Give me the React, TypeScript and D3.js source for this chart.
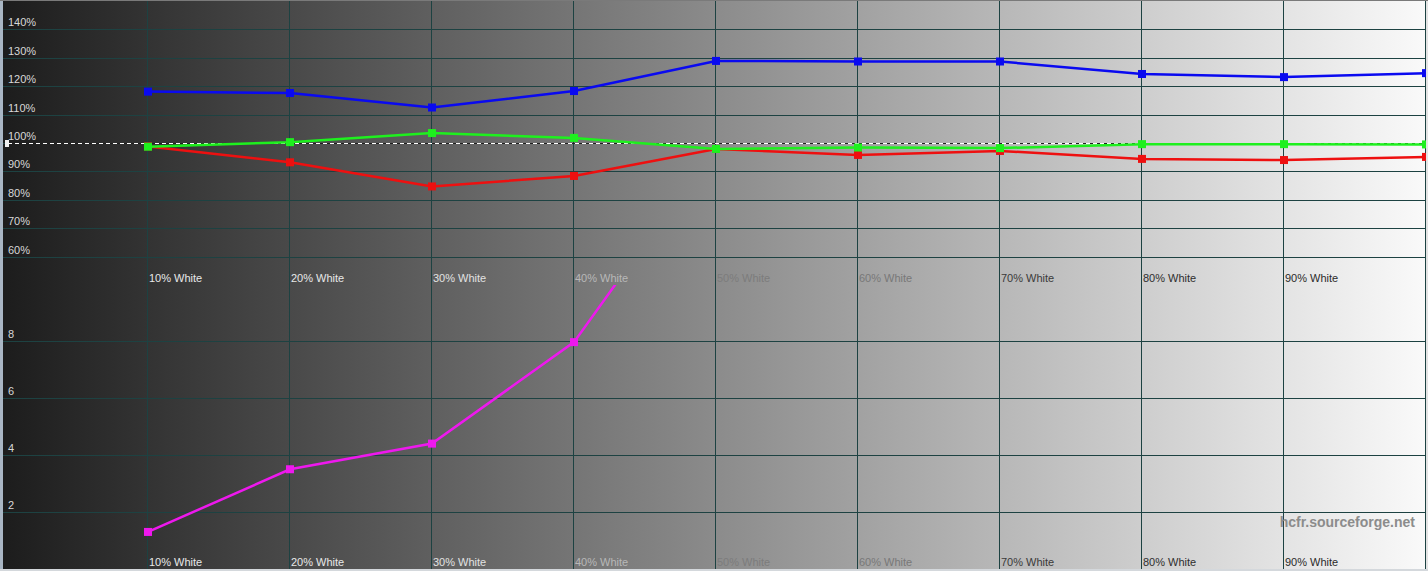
import React, { useEffect, useRef } from "react";
import * as d3 from "d3";

const width = 1428;
const height = 571;

// gray levels measured (percent of stimulus)
const levels = [10, 20, 30, 40, 50, 60, 70, 80, 90, 100];
const levelLabels = levels.map((l) => `${l}% White`);

// RGB levels (% of target)
const redValues = [98.8, 93.2, 84.7, 88.4, 97.9, 95.8, 97.2, 94.4, 94.0, 95.1];
const greenValues = [98.7, 100.3, 103.5, 101.8, 97.9, 98.4, 98.2, 99.6, 99.6, 99.5];
const blueValues = [118.1, 117.6, 112.5, 118.3, 128.9, 128.7, 128.7, 124.3, 123.2, 124.6];

// delta E per level (only visible part of the curve)
const deltaE = [1.3, 3.5, 4.4, 7.96, 14.9];

const rgbTicks = [140, 130, 120, 110, 100, 90, 80, 70, 60];
const deltaTicks = [8, 6, 4, 2];

const gridColor = "#1d4242";
const labelColors = ["#e8e8e8", "#e8e8e8", "#e2e2e2", "#b8b8b8", "#7c7c7c", "#787878", "#3a3a3a", "#2e2e2e", "#2a2a2a", "#2a2a2a"];

export default function App() {
  const ref = useRef<SVGSVGElement>(null);

  useEffect(() => {
    document.body.style.margin = "0";
    const svg = d3.select(ref.current);
    svg.selectAll("*").remove();

    const x = d3.scaleLinear().domain([0, 100]).range([6, 1426]);
    const yTop = d3.scaleLinear().domain([50, 150]).range([285, 1]);
    const yBot = d3.scaleLinear().domain([0, 10]).range([569, 284]);

    // background gradient
    const defs = svg.append("defs");
    const grad = defs
      .append("linearGradient")
      .attr("id", "bg")
      .attr("x1", "0")
      .attr("x2", "1")
      .attr("y1", "0")
      .attr("y2", "0");
    grad.append("stop").attr("offset", "0").attr("stop-color", "#1c1c1c");
    grad.append("stop").attr("offset", "1").attr("stop-color", "#fafafa");

    defs
      .append("clipPath")
      .attr("id", "botClip")
      .append("rect")
      .attr("x", 0)
      .attr("y", 285)
      .attr("width", width)
      .attr("height", 284);

    svg.append("rect").attr("width", width).attr("height", height).attr("fill", "url(#bg)");

    // horizontal grid, top panel
    svg
      .append("g")
      .selectAll("line")
      .data(rgbTicks)
      .join("line")
      .attr("x1", 0)
      .attr("x2", width)
      .attr("y1", (d) => Math.round(yTop(d)) + 0.5)
      .attr("y2", (d) => Math.round(yTop(d)) + 0.5)
      .attr("stroke", gridColor);

    // horizontal grid, bottom panel
    svg
      .append("g")
      .selectAll("line")
      .data(deltaTicks)
      .join("line")
      .attr("x1", 0)
      .attr("x2", width)
      .attr("y1", (d) => Math.round(yBot(d)) + 0.5)
      .attr("y2", (d) => Math.round(yBot(d)) + 0.5)
      .attr("stroke", gridColor);

    // vertical grid
    svg
      .append("g")
      .selectAll("line")
      .data(levels)
      .join("line")
      .attr("x1", (d) => Math.round(x(d)) - 0.5)
      .attr("x2", (d) => Math.round(x(d)) - 0.5)
      .attr("y1", 0)
      .attr("y2", 569)
      .attr("stroke", gridColor);

    const font = "Arial, 'Liberation Sans', sans-serif";

    // y labels
    svg
      .append("g")
      .selectAll("text")
      .data(rgbTicks)
      .join("text")
      .attr("x", 8)
      .attr("y", (d) => Math.round(yTop(d)) - 3)
      .attr("fill", "#d8d8d8")
      .attr("font-family", font)
      .attr("font-size", 11)
      .text((d) => `${d}%`);

    svg
      .append("g")
      .selectAll("text")
      .data(deltaTicks)
      .join("text")
      .attr("x", 8)
      .attr("y", (d) => Math.round(yBot(d)) - 3)
      .attr("fill", "#d8d8d8")
      .attr("font-family", font)
      .attr("font-size", 11)
      .text((d) => `${d}`);

    // x labels in both panels (the last one falls outside the window)
    const shown = levelLabels.filter((_d, i) => x(levels[i]) < width - 40);
    [282, 566].forEach((baseline) => {
      svg
        .append("g")
        .selectAll("text")
        .data(shown)
        .join("text")
        .attr("x", (_d, i) => Math.round(x(levels[i])) + 1)
        .attr("y", baseline)
        .attr("fill", (_d, i) => labelColors[i])
        .attr("font-family", font)
        .attr("font-size", 11)
        .text((d) => d);
    });

    // 100% reference line
    const ref100 = Math.round(yTop(100)) + 0.5;
    svg
      .append("line")
      .attr("x1", 8)
      .attr("x2", width)
      .attr("y1", ref100)
      .attr("y2", ref100)
      .attr("stroke", "#ffffff")
      .attr("stroke-dasharray", "4 3");
    svg
      .append("line")
      .attr("x1", 12)
      .attr("x2", width)
      .attr("y1", ref100)
      .attr("y2", ref100)
      .attr("stroke", "#202020")
      .attr("stroke-dasharray", "3 4");
    svg
      .append("rect")
      .attr("x", 5)
      .attr("y", ref100 - 3.5)
      .attr("width", 4)
      .attr("height", 7)
      .attr("fill", "#f0f0f0");

    const drawSeries = (
      values: number[],
      y: d3.ScaleLinear<number, number>,
      color: string,
      clip?: string
    ) => {
      const g = svg.append("g");
      if (clip) g.attr("clip-path", `url(#${clip})`);
      const line = d3
        .line<number>()
        .x((_d, i) => x(levels[i]))
        .y((d) => y(d));
      g.append("path")
        .attr("d", line(values))
        .attr("fill", "none")
        .attr("stroke", color)
        .attr("stroke-width", 2.5);
      g.selectAll("rect")
        .data(values)
        .join("rect")
        .attr("x", (_d, i) => x(levels[i]) - 4)
        .attr("y", (d) => y(d) - 4)
        .attr("width", 8)
        .attr("height", 8)
        .attr("fill", color);
    };

    drawSeries(blueValues, yTop, "#0a0af0");
    drawSeries(redValues, yTop, "#ee1010");
    drawSeries(greenValues, yTop, "#1ef01e");
    drawSeries(deltaE, yBot, "#ee18ee", "botClip");

    // watermark
    svg
      .append("text")
      .attr("x", 1415)
      .attr("y", 527)
      .attr("text-anchor", "end")
      .attr("fill", "#8c8c8c")
      .attr("font-family", font)
      .attr("font-weight", "bold")
      .attr("font-size", 14)
      .text("hcfr.sourceforge.net");

    // window frame
    svg.append("rect").attr("x", 0).attr("y", 0).attr("width", 3).attr("height", height).attr("fill", "#a9b6c4");
    svg.append("rect").attr("x", 1426).attr("y", 0).attr("width", 2).attr("height", height).attr("fill", "#e4e4e4");
    svg.append("rect").attr("x", 0).attr("y", 569).attr("width", width).attr("height", 2).attr("fill", "#d4d8dc");
    svg.append("rect").attr("x", 0).attr("y", 0).attr("width", width).attr("height", 1).attr("fill", "#7a7a7a");
  }, []);

  return <svg ref={ref} width={width} height={height} style={{ display: "block" }} />;
}
